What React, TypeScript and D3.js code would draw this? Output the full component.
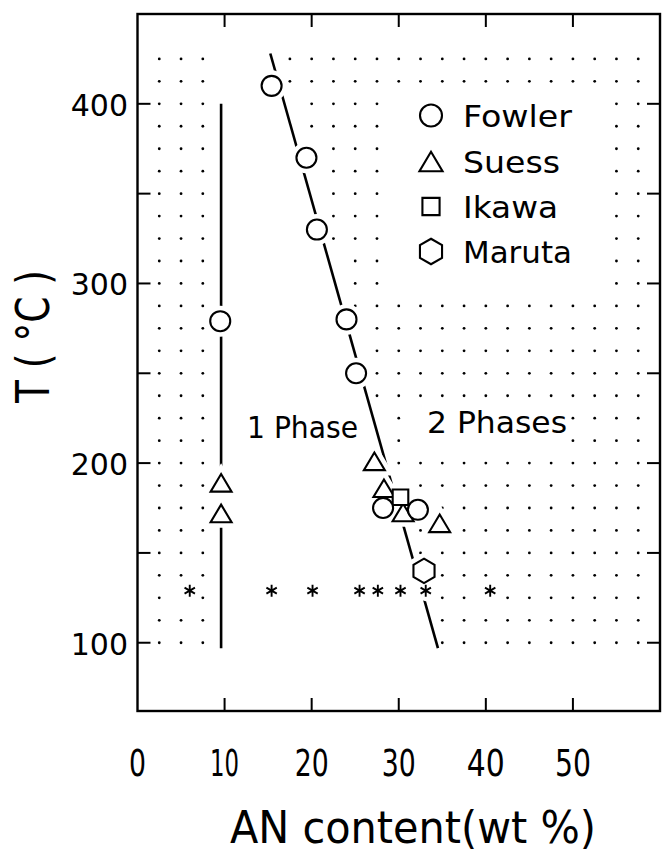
import React from 'react';
import * as d3 from 'd3';

const W = 662;
const H = 854;

// Axis ticks
const xTickLabels = [0, 10, 20, 30, 40, 50];
const xFrameTicks = [10, 20, 30, 40, 50];
const yTickLabels = [100, 200, 300, 400];
const yFrameTicks = [100, 150, 200, 250, 300, 350, 400];

// Measured points (AN wt %, T in °C)
const fowlerX = [15.4, 19.4, 20.6, 24.0, 25.1, 9.5, 28.2, 32.2];
const fowlerT = [410, 370, 330, 280, 250, 279, 175, 174];
const suessX = [9.6, 9.6, 27.2, 28.3, 30.5, 34.7];
const suessT = [189, 172, 201, 186, 172.5, 166.5];
const ikawaX = [30.2];
const ikawaT = [181];
const marutaX = [32.9];
const marutaT = [140];

// Cloud-point observations (asterisks)
const starX = [6.0, 15.4, 20.1, 25.5, 27.6, 30.2, 33.1, 40.5];
const starT = 129;

// Phase boundaries
const verticalX = [9.6, 9.6];
const verticalT = [400, 97];
const slantX = [15.25, 34.5];
const slantT = [428, 97];

// Edge of the dotted two-phase field, right of the slanted boundary
const shadeEdgeX = [16.7, 34.8];
const shadeEdgeT = [425, 100];

const legendNames = ['Fowler', 'Suess', 'Ikawa', 'Maruta'];

const FONT = '"DejaVu Sans", sans-serif';

const x = d3.scaleLinear().domain([0, 60]).range([137.5, 660]);
const y = d3.scaleLinear().domain([62, 450]).range([711, 14]);

type Shape = 'circle' | 'triangle' | 'square' | 'hexagon';

function shapePath(shape: Shape, size: number): string {
  const p = d3.path();
  if (shape === 'circle') {
    const r = size / 2;
    p.arc(0, 0, r, 0, Math.PI * 2);
  } else if (shape === 'triangle') {
    const w = size * 1.05;
    const h = size * 0.88;
    p.moveTo(0, -h / 2);
    p.lineTo(w / 2, h / 2);
    p.lineTo(-w / 2, h / 2);
    p.closePath();
  } else if (shape === 'square') {
    const s = size * 0.78;
    p.rect(-s / 2, -s / 2, s, s);
  } else {
    const R = size * 0.58;
    for (let i = 0; i < 6; i++) {
      const a = -Math.PI / 2 + (i * Math.PI) / 3;
      const px = R * Math.cos(a);
      const py = R * Math.sin(a);
      if (i === 0) p.moveTo(px, py);
      else p.lineTo(px, py);
    }
    p.closePath();
  }
  return p.toString();
}

function asteriskPath(r: number): string {
  const p = d3.path();
  [90, 30, -30].forEach((deg) => {
    const a = (deg * Math.PI) / 180;
    p.moveTo(-r * Math.cos(a), -r * Math.sin(a));
    p.lineTo(r * Math.cos(a), r * Math.sin(a));
  });
  return p.toString();
}

type Mark = { shape: Shape; x: number; t: number };

const marks: Mark[] = [
  ...suessX.map((v, i) => ({ shape: 'triangle' as Shape, x: v, t: suessT[i] })),
  ...ikawaX.map((v, i) => ({ shape: 'square' as Shape, x: v, t: ikawaT[i] })),
  ...marutaX.map((v, i) => ({ shape: 'hexagon' as Shape, x: v, t: marutaT[i] })),
  ...fowlerX.map((v, i) => ({ shape: 'circle' as Shape, x: v, t: fowlerT[i] })),
];

const edgeAt = d3.scaleLinear().domain(shadeEdgeT).range(shadeEdgeX);

// Dot screen for the two-phase regions
function buildDots() {
  const cols = d3.range(2.5, 58, 2.5);
  const rows = d3.range(100, 426, 12.5);
  const dots: { cx: number; cy: number }[] = [];
  rows.forEach((t) => {
    cols.forEach((c) => {
      const left = c < verticalX[0] - 1.5;
      const right = c > edgeAt(t);
      if (!left && !right) return;
      // legend block
      if (c >= 29.9 && c <= 52.6 && t >= 299 && t <= 401) return;
      // "2 Phases" label
      if (c >= 32.4 && c <= 47.6 && t >= 212 && t <= 226) return;
      const cx = x(c);
      const cy = y(t);
      for (const m of marks) {
        if (Math.hypot(x(m.x) - cx, y(m.t) - cy) < 15) return;
      }
      for (const s of starX) {
        if (Math.hypot(x(s) - cx, y(starT) - cy) < 12) return;
      }
      dots.push({ cx, cy });
    });
  });
  return dots;
}

const dots = buildDots();

const lineGen = d3
  .line<[number, number]>()
  .x((d) => x(d[0]))
  .y((d) => y(d[1]));

export default function App() {
  const left = x.range()[0];
  const right = x.range()[1];
  const top = y.range()[1];
  const bottom = y.range()[0];
  const tickLen = 13;

  const legendX = 431;
  const legendBase = [127, 173, 218, 263];
  const legendShapes: Shape[] = ['circle', 'triangle', 'square', 'hexagon'];
  const legendWidths = [109, 97, 95, 109];

  const xLabelWidths = [17, 29, 34, 34, 38, 36];

  return (
    <svg
      width={W}
      height={H}
      viewBox={`0 0 ${W} ${H}`}
      style={{ position: 'absolute', left: 0, top: 0, background: '#fff' }}
    >
      <rect x={0} y={0} width={W} height={H} fill="#fff" />

      {/* dot screen */}
      <g fill="#000">
        {dots.map((d, i) => (
          <circle key={i} cx={d.cx} cy={d.cy} r={1.4} />
        ))}
      </g>

      {/* frame */}
      <rect
        x={left}
        y={top}
        width={right - left}
        height={bottom - top}
        fill="none"
        stroke="#000"
        strokeWidth={2.4}
      />
      <g stroke="#000" strokeWidth={2}>
        {xFrameTicks.map((v) => (
          <g key={`xt${v}`}>
            <line x1={x(v)} x2={x(v)} y1={top} y2={top + tickLen} />
            <line x1={x(v)} x2={x(v)} y1={bottom} y2={bottom - tickLen} />
          </g>
        ))}
        {yFrameTicks.map((v) => (
          <g key={`yt${v}`}>
            <line x1={left} x2={left + tickLen} y1={y(v)} y2={y(v)} />
            <line x1={right} x2={right - tickLen} y1={y(v)} y2={y(v)} />
          </g>
        ))}
      </g>

      {/* tick labels */}
      <g fontFamily={FONT} fill="#000">
        {yTickLabels.map((v) => (
          <text key={`yl${v}`} x={128} y={y(v) + 12} fontSize={30} textAnchor="end">
            {v}
          </text>
        ))}
        {xTickLabels.map((v, i) => (
          <text
            key={`xl${v}`}
            x={x(v) - xLabelWidths[i] / 2}
            y={776}
            fontSize={38}
            textLength={xLabelWidths[i]}
            lengthAdjust="spacingAndGlyphs"
          >
            {v}
          </text>
        ))}
      </g>

      {/* axis titles */}
      <text
        x={230}
        y={843}
        fontFamily={FONT}
        fontSize={44}
        textLength={366}
        lengthAdjust="spacingAndGlyphs"
      >
        AN content(wt %)
      </text>
      <text
        transform={`translate(49, 403) rotate(-90)`}
        fontFamily={FONT}
        fontSize={46}
        textLength={133}
        lengthAdjust="spacingAndGlyphs"
      >
        T ( °C )
      </text>

      {/* phase boundaries */}
      <g fill="none" stroke="#000" strokeWidth={2.6}>
        <path
          d={lineGen([
            [verticalX[0], verticalT[0]],
            [verticalX[1], verticalT[1]],
          ])!}
        />
        <path
          d={lineGen([
            [slantX[0], slantT[0]],
            [slantX[1], slantT[1]],
          ])!}
        />
      </g>

      {/* white gaps around symbols */}
      <g fill="#fff" stroke="#fff" strokeWidth={11}>
        {marks.map((m, i) => (
          <path
            key={`h${i}`}
            d={shapePath(m.shape, m.shape === 'hexagon' ? 21 : 20)}
            transform={`translate(${x(m.x)},${y(m.t)})`}
          />
        ))}
        {starX.map((s, i) => (
          <circle key={`sh${i}`} cx={x(s)} cy={y(starT)} r={5} />
        ))}
      </g>

      {/* symbols */}
      <g fill="#fff" stroke="#000" strokeWidth={2.1}>
        {marks.map((m, i) => (
          <path
            key={`m${i}`}
            d={shapePath(m.shape, m.shape === 'hexagon' ? 21 : 20)}
            transform={`translate(${x(m.x)},${y(m.t)})`}
          />
        ))}
      </g>
      <g fill="none" stroke="#000" strokeWidth={1.9}>
        {starX.map((s, i) => (
          <path key={`s${i}`} d={asteriskPath(6)} transform={`translate(${x(s)},${y(starT)})`} />
        ))}
      </g>

      {/* legend */}
      <g>
        {legendNames.map((name, i) => (
          <g key={name}>
            <path
              d={shapePath(legendShapes[i], 22)}
              transform={`translate(${legendX},${legendBase[i] - 11.5})`}
              fill="#fff"
              stroke="#000"
              strokeWidth={2.1}
            />
            <text
              x={463}
              y={legendBase[i]}
              fontFamily={FONT}
              fontSize={30}
              textLength={legendWidths[i]}
              lengthAdjust="spacingAndGlyphs"
            >
              {name}
            </text>
          </g>
        ))}
      </g>

      {/* region labels */}
      <text
        x={247}
        y={438}
        fontFamily={FONT}
        fontSize={31}
        textLength={111}
        lengthAdjust="spacingAndGlyphs"
      >
        1 Phase
      </text>
      <text
        x={427}
        y={433}
        fontFamily={FONT}
        fontSize={31}
        textLength={140}
        lengthAdjust="spacingAndGlyphs"
      >
        2 Phases
      </text>
    </svg>
  );
}
